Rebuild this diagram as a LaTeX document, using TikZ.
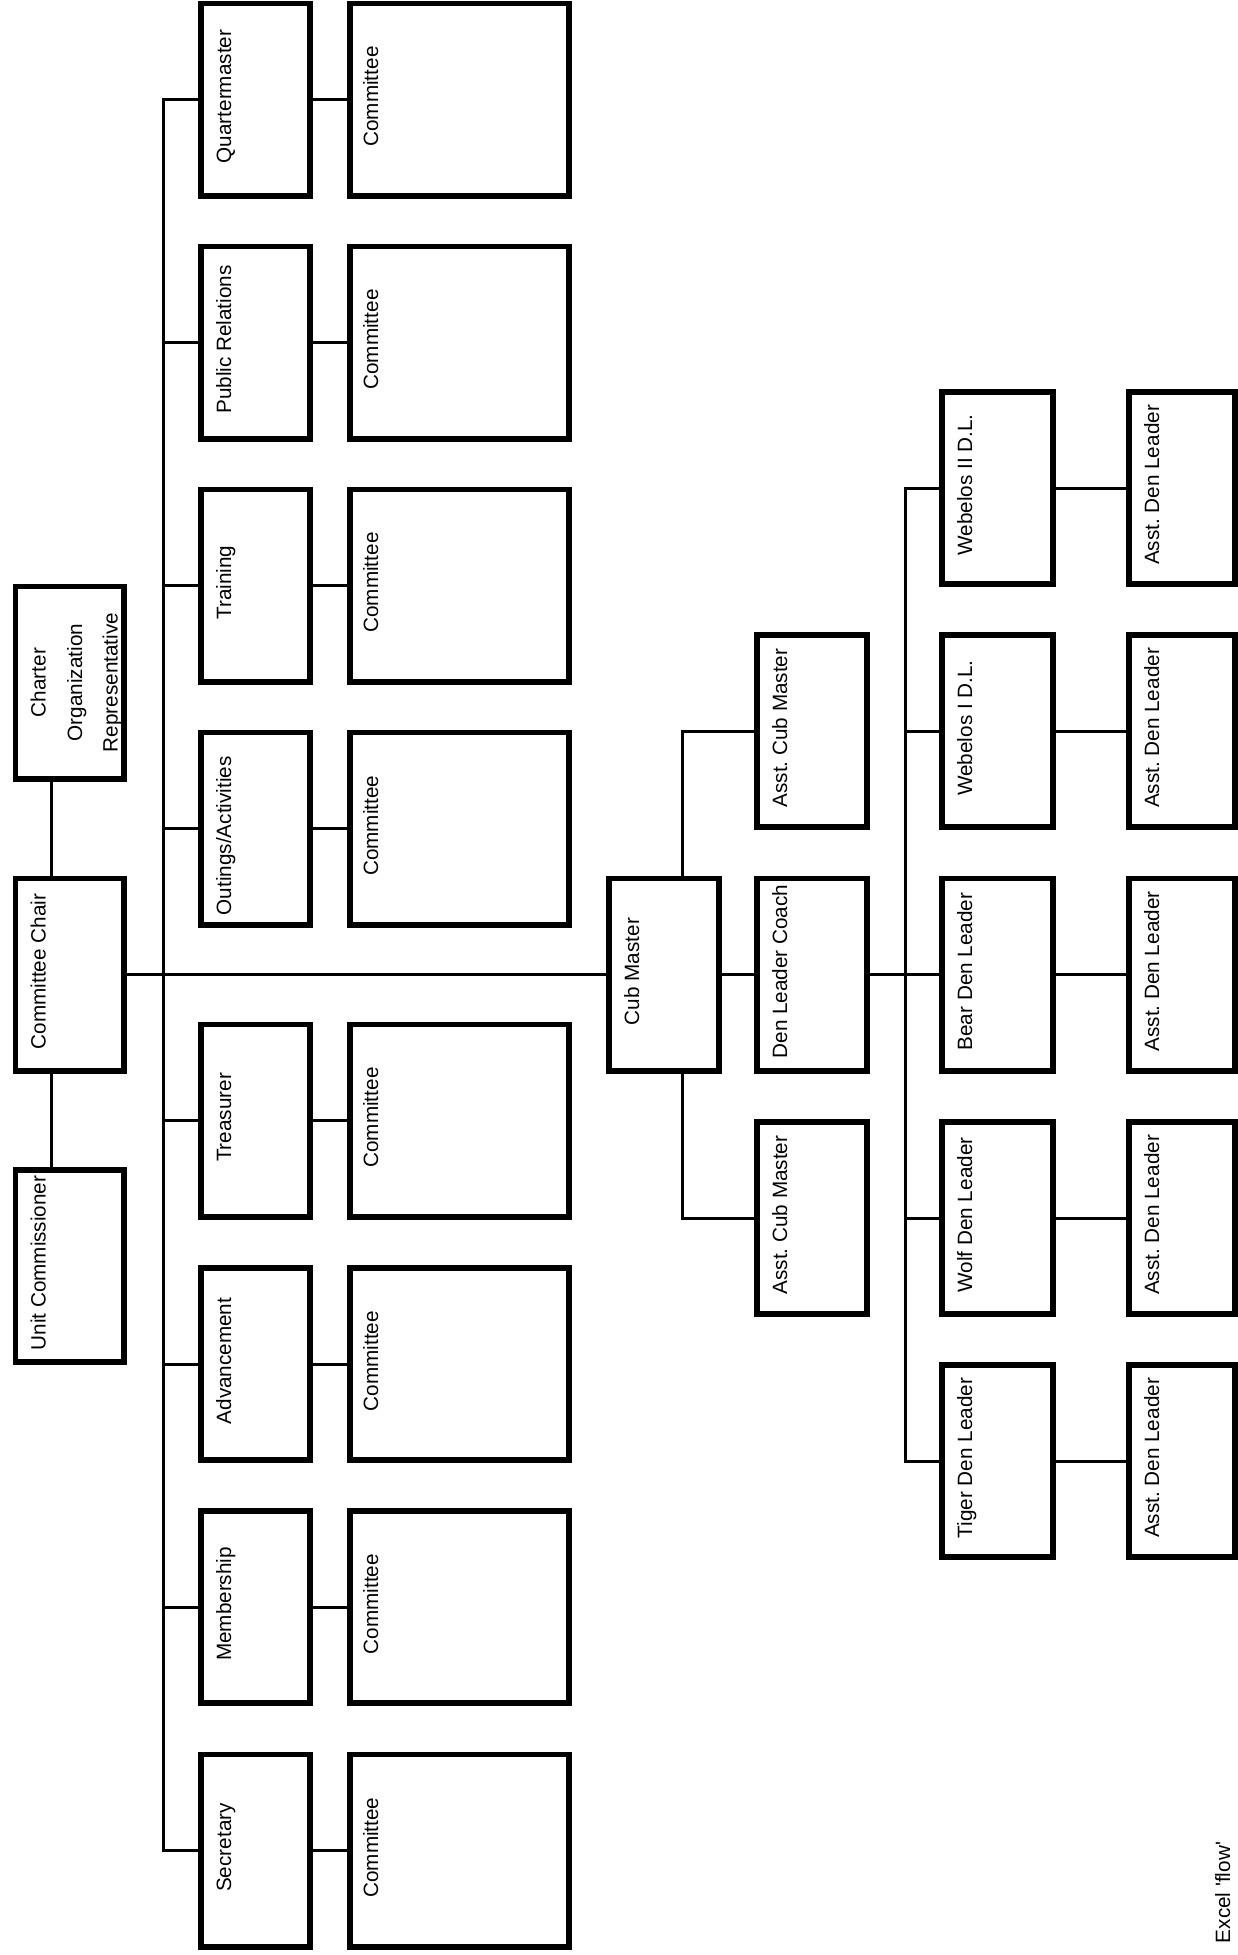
\documentclass[tikz,border=0pt]{standalone}
\usepackage{fontspec}
\setmainfont{Liberation Sans}
\frenchspacing
\begin{document}
\begin{tikzpicture}[x=1pt,y=-1pt,
  box/.style={draw, line width=5.6pt, inner sep=0pt, minimum height=192.4pt},
  cA/.style={box, minimum width=108.9pt},
  cB/.style={box, minimum width=109.4pt},
  cC/.style={box, minimum width=219.4pt},
  cD/.style={box, minimum width=110.4pt},
  cE/.style={box, minimum width=111.4pt},
  cF/.style={box, minimum width=106.4pt},
  lbl/.style={rotate=90, anchor=base, inner sep=0pt, font=\fontsize{20.7}{24}\selectfont\frenchspacing},
  conn/.style={line width=3pt, line cap=rect}]
\useasboundingbox (0,0) rectangle (1238,1955);
\coordinate (vx) at (51,0);
\coordinate (b1) at (163,0);
\coordinate (cmx) at (682,0);
\coordinate (b2) at (905,0);
% left column
\node[cA] (chr) at (69.75,682.5) {};
\node[lbl] (chr1) at ([xshift=33pt,yshift=0pt]chr.west) {Charter};
\node[lbl] (chr2) at ([xshift=69.5pt,yshift=0pt]chr.west) {Organization};
\node[lbl] (chr3) at ([xshift=105pt,yshift=0pt]chr.west) {Representative};
\node[cA] (chair) at (69.75,974.5) {};
\node[lbl] (chairt) at ([xshift=33pt,yshift=3pt]chair.west) {Committee Chair};
\node[cA] (uc) at (69.75,1266) {};
\node[lbl] (uct) at ([xshift=33pt,yshift=3pt]uc.west) {Unit Commissioner};
\draw[conn] (chr.south -| vx) -- (chair.north -| vx);
\draw[conn] (chair.south -| vx) -- (uc.north -| vx);
% committee columns
\foreach \n/\y/\s/\t in {qm/99.5/3/Quartermaster, pr/342.5/3/Public Relations, tr/585.5/3/Training, oa/828.8/-7/Outings\slash Activities, ts/1120.5/3/Treasurer, ad/1364/3/Advancement, mb/1607/3/Membership, sc/1850.5/3/Secretary}{
  \node[cB] (\n) at (255.5,\y) {};
  \node[lbl] (t\n) at ([xshift=33pt,yshift=\s pt]\n.west) {\t};
  \node[cC] (c\n) at (459.5,\y) {};
  \node[lbl] (ct\n) at ([xshift=31pt,yshift=3pt]c\n.west) {Committee};
  \draw[conn] (\n.west -| b1) -- (\n.west);
  \draw[conn] (\n.east) -- (c\n.west);
}
\draw[conn] (qm.west -| b1) -- (sc.west -| b1);
% cub master part
\node[cD] (cm) at (664,974.5) {};
\node[lbl] (tcm) at ([xshift=33pt,yshift=3pt]cm.west) {Cub Master};
\node[cD] (acm1) at (812,731) {};
\node[lbl] (tacm1) at ([xshift=33pt,yshift=3pt]acm1.west) {Asst. Cub Master};
\node[cD] (dlc) at (812,974.5) {};
\node[lbl] (tdlc) at ([xshift=33pt,yshift=3pt]dlc.west) {Den Leader Coach};
\node[cD] (acm2) at (812,1218) {};
\node[lbl] (tacm2) at ([xshift=33pt,yshift=3pt]acm2.west) {Asst. Cub Master};
\draw[conn] (chair.east) -- (cm.west);
\draw[conn] (cm.north -| cmx) |- (acm1.west);
\draw[conn] (cm.south -| cmx) |- (acm2.west);
\draw[conn] (cm.east) -- (dlc.west);
\draw[conn] (dlc.east) -- (b2 |- dlc.east);
\foreach \n/\y/\t in {wb2/488/Webelos II D.L., wb1/731/Webelos I D.L., br/974.5/Bear Den Leader, wf/1218/Wolf Den Leader, tg/1461/Tiger Den Leader}{
  \node[cE] (\n) at (997.5,\y) {};
  \node[lbl] (t\n) at ([xshift=33pt,yshift=3pt]\n.west) {\t};
  \node[cF] (a\n) at (1182,\y) {};
  \node[lbl] (ta\n) at ([xshift=33pt,yshift=3pt]a\n.west) {Asst. Den Leader};
  \draw[conn] (\n.west -| b2) -- (\n.west);
  \draw[conn] (\n.east) -- (a\n.west);
}
\draw[conn] (wb2.west -| b2) -- (tg.west -| b2);
\node[lbl] (xl) at (1230,1892.5) {Excel \textquotesingle flow\textquotesingle};
\end{tikzpicture}
\end{document}
